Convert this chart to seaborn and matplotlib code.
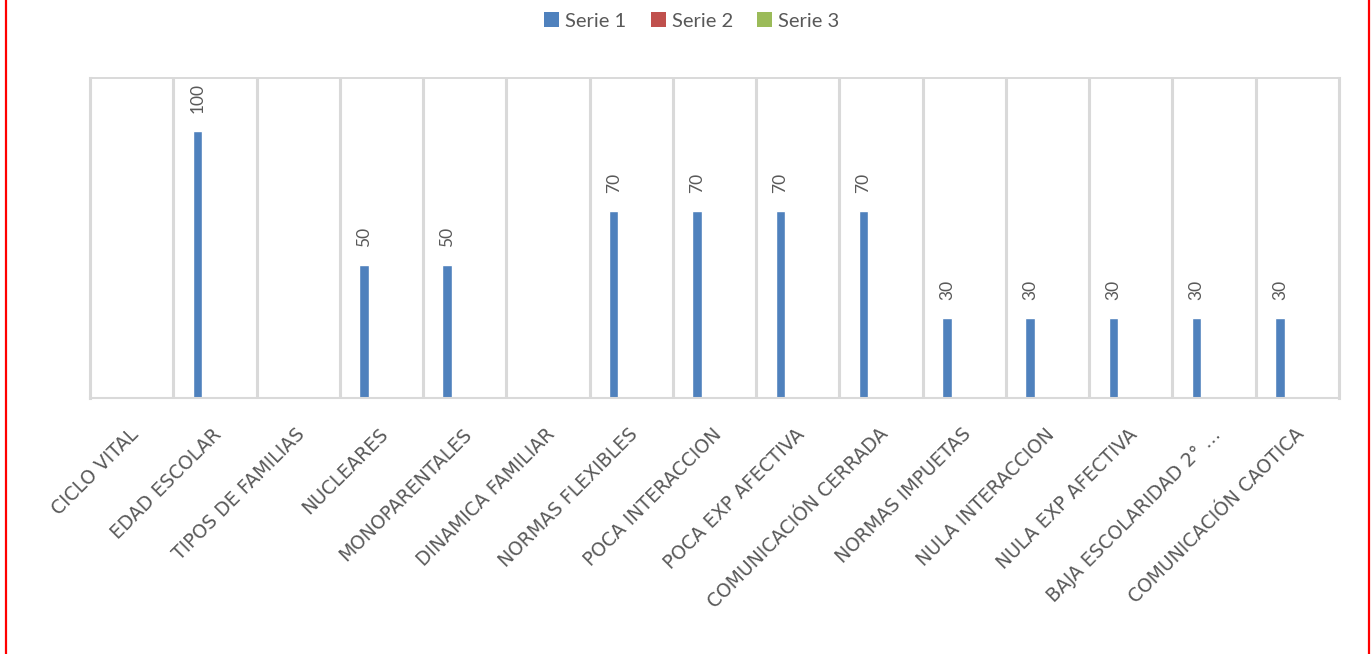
import numpy as np
import pandas as pd
import matplotlib
matplotlib.use("Agg")
import matplotlib.pyplot as plt
import seaborn as sns
from matplotlib.lines import Line2D
from matplotlib.patches import Patch
from matplotlib.transforms import ScaledTranslation

# ---- data -------------------------------------------------------------
categories = [
    "CICLO VITAL", "EDAD ESCOLAR", "TIPOS DE FAMILIAS", "NUCLEARES",
    "MONOPARENTALES", "DINAMICA FAMILIAR", "NORMAS FLEXIBLES",
    "POCA INTERACCION", "POCA EXP AFECTIVA", "COMUNICACIÓN CERRADA",
    "NORMAS IMPUETAS", "NULA INTERACCION", "NULA EXP AFECTIVA",
    "BAJA ESCOLARIDAD 2° …", "COMUNICACIÓN CAOTICA",
]
serie_1 = [np.nan, 100, np.nan, 50, 50, np.nan, 70, 70, 70, 70, 30, 30, 30, 30, 30]
serie_2 = [np.nan] * len(categories)
serie_3 = [np.nan] * len(categories)

series_names = ["Serie 1", "Serie 2", "Serie 3"]
series_colors = ["#4F81BD", "#C0504D", "#9BBB59"]

df = pd.DataFrame({
    "categoria": categories * 3,
    "serie": [s for s in series_names for _ in categories],
    "valor": serie_1 + serie_2 + serie_3,
})

# ---- style ------------------------------------------------------------
sns.set_style("white")
plt.rcParams["font.family"] = ["Lato", "DejaVu Sans"]
text_grey = "#595959"
grid_grey = "#D9D9D9"

W, H = 1372, 654
fig = plt.figure(figsize=(W / 100, H / 100), dpi=100)
ax = fig.add_axes([90 / W, 1 - 398 / H, (1339 - 90) / W, (398 - 78) / H])

sns.barplot(
    data=df, x="categoria", y="valor", hue="serie",
    order=categories, hue_order=series_names,
    palette=dict(zip(series_names, series_colors)),
    width=0.63, gap=0.46, saturation=1, errorbar=None,
    legend=False, ax=ax,
)

ax.set_xlim(-0.5, len(categories) - 0.5)
ax.set_ylim(0, 120)
ax.set_yticks([])
ax.set_xlabel("")
ax.set_ylabel("")

# category labels, slanted and hanging below the axis
ax.set_xticks(
    range(len(categories)), labels=categories,
    rotation=45, ha="right", va="center", rotation_mode="anchor",
    fontfamily="DejaVu Sans", fontsize=13.5, color=text_grey,
)
ax.tick_params(axis="x", which="major", length=0, pad=24)
shift = ScaledTranslation(4 / 100, 0, fig.dpi_scale_trans)
for lbl in ax.get_xticklabels():
    lbl.set_transform(lbl.get_transform() + shift)

# vertical separators between categories
ax.set_xticks(np.arange(0.5, len(categories) - 1, 1), minor=True)
ax.grid(False)
ax.grid(which="minor", axis="x", color=grid_grey, linewidth=2.2)
ax.tick_params(axis="x", which="minor", length=0)
ax.set_axisbelow(True)

for side in ("left", "right"):
    ax.spines[side].set_color(grid_grey)
    ax.spines[side].set_linewidth(2.2)
ax.spines["top"].set_color(grid_grey)
ax.spines["top"].set_linewidth(1.4)
ax.spines["bottom"].set_color(grid_grey)
ax.spines["bottom"].set_linewidth(1.5)

# value labels above the bars
for cont in ax.containers:
    ax.bar_label(cont, fmt="%g", rotation=90, padding=13,
                 color=text_grey, fontsize=12.5)

# legend
handles = [Patch(facecolor=c, edgecolor="none") for c in series_colors]
fig.legend(
    handles, series_names, loc="center",
    bbox_to_anchor=(692 / W, 1 - 21 / H), ncol=3, frameon=False,
    handlelength=0.75, handleheight=0.75, handletextpad=0.3,
    columnspacing=1.2, fontsize=14.5, labelcolor=text_grey,
)

# red frame edges
for xpix in (5.5, 1369):
    fig.add_artist(Line2D([xpix / W, xpix / W], [0, 1],
                          transform=fig.transFigure,
                          color="#FF0000", linewidth=1.6))

fig.savefig("out.png", dpi=100, facecolor="white")
